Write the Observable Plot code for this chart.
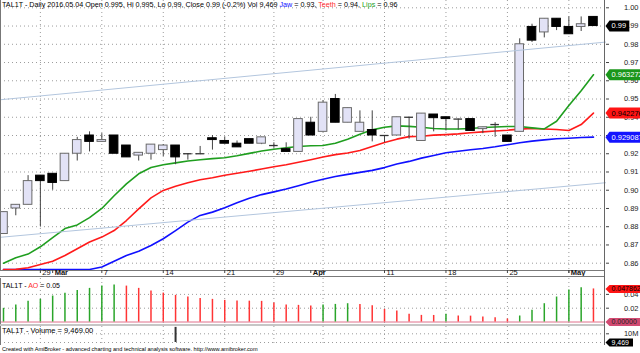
<!DOCTYPE html>
<html>
<head>
<meta charset="utf-8">
<script src="https://cdn.jsdelivr.net/npm/d3@7"></script>
<script src="https://cdn.jsdelivr.net/npm/@observablehq/plot@0.6"></script>
<style>
html,body{margin:0;padding:0;background:#fff;}
#wrap{position:relative;width:640px;height:353px;overflow:hidden;background:#fff;font-family:"Liberation Sans",Arial,sans-serif;}
#wrap svg{position:absolute;left:0;overflow:visible;}
.t{position:absolute;left:2px;white-space:nowrap;color:#000;line-height:1;}
.hl{position:absolute;left:0;width:605px;background:#7a7a7a;}
</style>
</head>
<body>
<div id="wrap"></div>
<script>
// ---------- data ----------
const dates = ["2016-02-23","2016-02-25","2016-02-26","2016-02-29","2016-03-01","2016-03-02","2016-03-03","2016-03-04",
  "2016-03-07","2016-03-08","2016-03-09","2016-03-10","2016-03-11","2016-03-14","2016-03-15","2016-03-16","2016-03-17","2016-03-18",
  "2016-03-21","2016-03-22","2016-03-23","2016-03-24","2016-03-29","2016-03-30","2016-03-31","2016-04-01",
  "2016-04-04","2016-04-05","2016-04-06","2016-04-07","2016-04-08","2016-04-11","2016-04-12","2016-04-13","2016-04-14","2016-04-15",
  "2016-04-18","2016-04-19","2016-04-20","2016-04-21","2016-04-22","2016-04-25","2016-04-26","2016-04-27","2016-04-28","2016-04-29",
  "2016-05-02","2016-05-03","2016-05-04"];
const open  = [0.876,0.890,0.892,0.908,0.909,0.905,0.920,0.930,0.9265,0.930,
               0.9245,0.919,0.920,0.922,0.9245,0.920,0.920,0.9285,0.927,0.9255,
               0.928,0.9255,0.9245,0.9225,0.921,0.937,0.932,0.950,0.937,0.932,
               0.933,0.930,0.930,0.940,0.927,0.9415,0.940,0.939,0.939,0.9335,
               0.936,0.930,0.932,0.9895,0.9865,0.994,0.9895,0.9895,0.995];
const high  = [0.888,0.892,0.908,0.908,0.909,0.920,0.929,0.932,0.931,0.930,
               0.9245,0.9205,0.925,0.925,0.9245,0.920,0.924,0.930,0.929,0.927,
               0.928,0.929,0.926,0.926,0.939,0.940,0.949,0.9525,0.945,0.9435,
               0.9435,0.930,0.940,0.940,0.942,0.9415,0.940,0.939,0.939,0.9345,
               0.937,0.930,0.983,0.991,0.994,0.994,0.995,0.995,0.995];
const low   = [0.876,0.886,0.892,0.880,0.900,0.905,0.916,0.921,0.9265,0.920,
               0.918,0.916,0.9165,0.9185,0.914,0.9165,0.920,0.922,0.9255,0.9235,
               0.9255,0.925,0.923,0.921,0.921,0.930,0.932,0.937,0.937,0.932,
               0.9265,0.926,0.930,0.928,0.927,0.932,0.9325,0.933,0.9325,0.931,
               0.929,0.9265,0.932,0.981,0.9835,0.9875,0.9855,0.987,0.990];
const close = [0.888,0.892,0.905,0.905,0.904,0.920,0.9275,0.9265,0.9275,0.920,
               0.918,0.9205,0.925,0.9245,0.918,0.920,0.920,0.9275,0.9255,0.9235,
               0.9255,0.929,0.9245,0.921,0.939,0.930,0.948,0.937,0.945,0.937,
               0.930,0.930,0.940,0.940,0.942,0.9395,0.939,0.939,0.9325,0.9345,
               0.936,0.9265,0.980,0.982,0.994,0.9895,0.9855,0.991,0.990];
const jaw   = [0.8565,0.8565,0.8565,0.8565,0.8565,0.8565,0.8565,0.8565,0.8579,0.8611,
               0.8642,0.8666,0.8697,0.8734,0.8779,0.8825,0.8862,0.888,0.8904,0.8931,
               0.8956,0.8976,0.8991,0.9007,0.9025,0.9044,0.906,0.9075,0.9087,0.9098,
               0.9109,0.9124,0.9144,0.9158,0.9176,0.919,0.9205,0.9214,0.9222,0.9229,
               0.9238,0.9249,0.926,0.9269,0.9276,0.9282,0.9285,0.9289,0.9291];
const teeth = [0.8565,0.8566,0.8575,0.8593,0.8611,0.8642,0.8679,0.8716,0.8743,0.8779,
               0.8834,0.8898,0.8958,0.8999,0.9022,0.9041,0.9057,0.9068,0.9082,0.9093,
               0.9104,0.9116,0.9129,0.914,0.9153,0.9167,0.9182,0.9195,0.9204,0.9218,
               0.924,0.9262,0.928,0.9294,0.9296,0.9302,0.9305,0.9309,0.9315,0.932,
               0.9325,0.9329,0.9335,0.9338,0.9336,0.9333,0.9327,0.936,0.9423];
const lips  = [0.860,0.863,0.865,0.869,0.874,0.879,0.881,0.885,0.890,0.897,
               0.9035,0.909,0.9125,0.914,0.915,0.916,0.9167,0.9173,0.9178,0.9189,
               0.9202,0.9215,0.9225,0.9233,0.924,0.9244,0.9245,0.9258,0.928,0.9307,
               0.9331,0.9345,0.9353,0.935,0.9345,0.9338,0.9336,0.9336,0.9338,0.9344,
               0.9347,0.9349,0.9349,0.9342,0.9336,0.9378,0.9464,0.9545,0.9633];
const ao    = [0.0198,0.0246,0.0299,0.0328,0.0376,0.0415,0.0458,0.0487,0.052,0.0535,
               0.052,0.0487,0.0448,0.0419,0.0386,0.0362,0.0342,0.0328,0.0313,0.0304,
               0.0302,0.0299,0.0275,0.0246,0.0241,0.0231,0.0246,0.0255,0.0265,0.0255,
               0.0236,0.0183,0.0159,0.0111,0.0096,0.0095,0.0111,0.0087,0.0085,0.0072,
               0.0063,0.0043,0.0087,0.0169,0.0265,0.0362,0.0463,0.0496,0.0479];
const volume = dates.map((d, i) => i === 14 ? 17400000 : i === 48 ? 9469 : 0);

// trend lines (study lines), endpoints in bar-index / price units
const upperTrend = [{i: -0.244, v: 0.9496}, {i: 48.98, v: 0.9812}];
const lowerTrend = [{i: -0.244, v: 0.8742}, {i: 48.98, v: 0.9041}];

// axis ticks and labels
const priceTicks = [0.86,0.87,0.88,0.89,0.90,0.91,0.92,0.93,0.94,0.95,0.96,0.97,0.98,0.99,1.00];
const aoTicks = [0.02, 0.04];
const volTicks = [10000000];
const weekIdx = [3, 8, 13, 18, 22, 26, 31, 36, 41, 46];
const dayTicks = [{i:3,label:"29"},{i:8,label:"7"},{i:13,label:"14"},{i:18,label:"21"},{i:22,label:"29"},
                  {i:31,label:"11"},{i:36,label:"18"},{i:41,label:"25"}];
const monthTicks = [{i:4,label:"Mar"},{i:25,label:"Apr"},{i:46,label:"May"}];
const mainTags = [
  {v: 0.99, label: "0.99", bg: "#000000", fg: "#ffffff"},
  {v: 0.963272, label: "0.963272", bg: "#1a961a", fg: "#ffffff"},
  {v: 0.942276, label: "0.942276", bg: "#ff1414", fg: "#000000"},
  {v: 0.929087, label: "0.929087", bg: "#1414ff", fg: "#ffffff"}];
const aoTags = [
  {v: 0.047862, label: "0.047862", bg: "#ff1414", fg: "#000000"},
  {v: 0, label: "0.00000", bg: "#d24a72", fg: "#222222"}];
const volTags = [{v: 9469, label: "9,469", bg: "#000000", fg: "#ffffff"}];

// ---------- drawing ----------
const FONT = '"Liberation Sans", Arial, sans-serif';
const xDomain = [-0.244, 48.98];
const gridStyle = {stroke: "#9c9c9c", strokeOpacity: 1, strokeDasharray: "1,3", strokeWidth: 1};
const bars = dates.map((d, i) => ({i, date: d, o: open[i], h: high[i], l: low[i], c: close[i],
  jaw: jaw[i], teeth: teeth[i], lips: lips[i], ao: ao[i], vol: volume[i],
  aoCol: (i === 0 || ao[i] >= ao[i - 1]) ? "#2aa52a" : "#ff3434"}));
const up = bars.filter(b => b.c > b.o);
const down = bars.filter(b => b.c < b.o);
const flat = bars.filter(b => b.c === b.o);
const HW = 0.35;

function tagSymbol(w, h) {
  return {draw(ctx) {
    ctx.moveTo(0, 0); ctx.lineTo(4, -h / 2); ctx.lineTo(w, -h / 2);
    ctx.lineTo(w, h / 2); ctx.lineTo(4, h / 2); ctx.closePath();
  }};
}
function tagMarks(tags, fontSize, h) {
  return tags.flatMap(t => [
    Plot.dot([t], {y: "v", frameAnchor: "right", symbol: tagSymbol(t.label.length * 3.7 + 9, h), fill: t.bg}),
    Plot.text([t], {y: "v", frameAnchor: "right", dx: 6, textAnchor: "start", text: "label", fill: t.fg, fontSize})
  ]);
}
const baseStyle = {fontFamily: FONT, fontSize: "7.5px", background: "transparent", overflow: "visible"};

const mainSvg = Plot.plot({
  width: 640, height: 277, marginLeft: 0, marginRight: 35, marginTop: 0, marginBottom: 7,
  style: baseStyle,
  x: {domain: xDomain, axis: null, label: null},
  y: {domain: [0.856, 1.004], axis: null, label: null},
  marks: [
    Plot.gridY(priceTicks, gridStyle),
    Plot.gridX(weekIdx, gridStyle),
    Plot.line(bars, {x: "i", y: "jaw", stroke: "#1010ff", strokeWidth: 1.6}),
    Plot.line(bars, {x: "i", y: "teeth", stroke: "#ff1a1a", strokeWidth: 1.6}),
    Plot.line(bars, {x: "i", y: "lips", stroke: "#1f9e1f", strokeWidth: 1.6}),
    Plot.ruleX(bars, {x: "i", y1: "l", y2: "h", stroke: "#444", strokeWidth: 1}),
    Plot.rect(up, {x1: d => d.i - HW, x2: d => d.i + HW, y1: "o", y2: "c", fill: "#e2e2f6", stroke: "#6a6a6a", strokeWidth: 1}),
    Plot.rect(down, {x1: d => d.i - HW, x2: d => d.i + HW, y1: "o", y2: "c", fill: "#000", stroke: "#000", strokeWidth: 1}),
    Plot.ruleY(flat, {y: "o", x1: d => d.i - HW, x2: d => d.i + HW, stroke: "#333", strokeWidth: 1.3}),
    Plot.line(upperTrend, {x: "i", y: "v", stroke: "#b3c6de", strokeWidth: 1}),
    Plot.line(lowerTrend, {x: "i", y: "v", stroke: "#b3c6de", strokeWidth: 1}),
    Plot.ruleX([xDomain[0]], {stroke: "#777"}),
    Plot.ruleY([0.856], {stroke: "#7a7a7a"}),
    Plot.axisX({ticks: weekIdx.concat(monthTicks.map(d => d.i)), tickSize: 3, tickFormat: () => "", stroke: "#444"}),
    Plot.text(dayTicks, {x: "i", text: "label", frameAnchor: "bottom", dy: 4, dx: 2, textAnchor: "start", fill: "#111"}),
    Plot.text(monthTicks, {x: "i", text: "label", frameAnchor: "bottom", dy: 4, dx: 2, textAnchor: "start", fill: "#111", fontWeight: "bold"}),
    Plot.axisY({anchor: "right", ticks: priceTicks, tickSize: 3, tickPadding: 30, textAnchor: "end", tickFormat: d3.format(".2f"), fill: "#222", stroke: "#444"}),
    ...tagMarks(mainTags, 7.5, 11)
  ]
});

const aoSvg = Plot.plot({
  width: 640, height: 47, marginLeft: 0, marginRight: 35, marginTop: 1, marginBottom: 0,
  style: baseStyle,
  x: {domain: xDomain, axis: null, label: null},
  y: {domain: [-0.0036, 0.063], axis: null, label: null},
  marks: [
    Plot.gridY(aoTicks, gridStyle),
    Plot.gridX(weekIdx, gridStyle),
    Plot.ruleY([0], {stroke: "#e0708c", strokeWidth: 1}),
    Plot.ruleX(bars, {x: "i", y1: 0, y2: "ao", stroke: "aoCol", strokeWidth: 1.5}),
    Plot.ruleX([xDomain[0]], {stroke: "#777"}),
    Plot.axisY({anchor: "right", ticks: aoTicks, tickSize: 3, tickPadding: 30, textAnchor: "end", tickFormat: d3.format(".2f"), fill: "#222", stroke: "#444"}),
    ...tagMarks(aoTags, 7, 8)
  ]
});

const volSvg = Plot.plot({
  width: 640, height: 19, marginLeft: 0, marginRight: 35, marginTop: 0, marginBottom: 0,
  style: baseStyle,
  x: {domain: xDomain, axis: null, label: null},
  y: {domain: [-3450000, 18400000], axis: null, label: null},
  marks: [
    Plot.gridY([0].concat(volTicks), gridStyle),
    Plot.gridX(weekIdx, gridStyle),
    Plot.ruleX(bars, {x: "i", y1: 0, y2: "vol", stroke: "#333", strokeWidth: 2}),
    Plot.ruleX([xDomain[0]], {stroke: "#777"}),
    Plot.axisY({anchor: "right", ticks: volTicks, tickSize: 3, tickPadding: 30, textAnchor: "end", tickFormat: d => (d / 1e6) + "M", fill: "#222", stroke: "#444"}),
    ...tagMarks(volTags, 7, 8)
  ]
});

const wrap = document.getElementById("wrap");
function place(el, top) { el.style.top = top + "px"; wrap.appendChild(el); }
place(mainSvg, 0);
place(aoSvg, 277);
place(volSvg, 326);

function hline(top, h, color) {
  const d = document.createElement("div");
  d.className = "hl"; d.style.top = top + "px"; d.style.height = h + "px"; d.style.background = color;
  wrap.appendChild(d);
}
hline(276, 1, "#7a7a7a");
hline(323.5, 2.5, "#c6c6c6");
const vline = document.createElement("div");
vline.style.cssText = "position:absolute;left:604px;top:0;width:1px;height:345px;background:#666;";
wrap.appendChild(vline);

function label(top, html, size) {
  const d = document.createElement("div");
  d.className = "t"; d.style.top = top + "px"; d.style.fontSize = size + "px";
  d.innerHTML = html; wrap.appendChild(d);
}
label(1, 'TAL1T - Daily 2016.05.04 Open 0.995, Hi 0.995, Lo 0.99, Close 0.99 (-0.2%) Vol 9,469 <span style="color:#1010ff">Jaw</span> = 0.93, <span style="color:#ff2a2a">Teeth</span> = 0.94, <span style="color:#22a022">Lips</span> = 0.96', 7.2);
label(281.5, 'TAL1T - <span style="color:#ff2a2a">AO</span> = 0.05', 7);
label(327, 'TAL1T - Volume = 9,469.00', 7.5);
label(346.5, 'Created with AmiBroker - advanced charting and technical analysis software. http://www.amibroker.com', 5.6);
</script>
</body>
</html>
